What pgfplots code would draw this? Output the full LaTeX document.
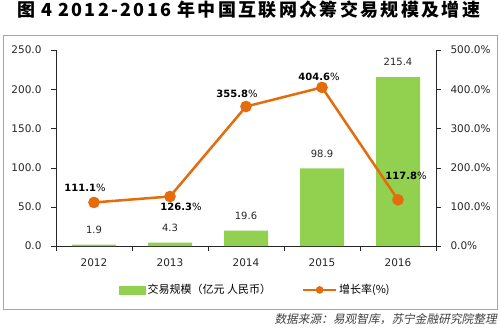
\documentclass[border=0pt]{standalone}
\usepackage{pgfplots}
\pgfplotsset{compat=1.18}
\usepackage{pgfplotstable}
\usepackage{fontspec}
\setmainfont{DejaVu Sans}
\newfontfamily\cjk{Noto Sans CJK SC}
\newfontfamily\cjkt{Noto Sans CJK SC}[LetterSpace=13]
\newfontfamily\cjkit{Noto Sans CJK SC}[FakeSlant=0.2]
\definecolor{barg}{RGB}{146,208,80}
\definecolor{lineo}{RGB}{228,108,10}
\definecolor{boxg}{RGB}{165,165,165}

\pgfplotstableread{
x v
0 1.9
1 4.3
2 19.6
3 98.9
4 215.4
}\bars
\pgfplotstableread{
x g dx dy
0 111.1 -9 15
1 126.3 11 -10
2 355.8 -9 13
3 404.6 -3 11
4 117.8 8 24
}\growth

\begin{document}
\begin{tikzpicture}[x=1pt,y=1pt]
\path[use as bounding box] (0,0) rectangle (500,333);
\draw[boxg, line width=1pt] (3,24) rectangle (497,298);
\node[anchor=west, inner sep=0pt, font=\cjkt\bfseries\fontsize{18}{18}\selectfont] at (17,323.5) {图\hspace{6pt}4\hspace{6pt}2012-2016\hspace{6pt}年中国互联网众筹交易规模及增速};
\node[anchor=east, inner sep=0pt, text=black!75, font=\cjkit\fontsize{11.7}{12}\selectfont] at (497,14) {数据来源：易观智库，苏宁金融研究院整理};

\begin{axis}[
  at={(56pt,87pt)}, anchor=south west, scale only axis,
  width=380pt, height=196pt,
  xmin=-0.5, xmax=4.5, ymin=0, ymax=250,
  axis x line*=bottom, axis y line*=left,
  axis line style={-, black!85},
  tick align=outside,
  xtick={0,...,4}, xticklabels={2012,2013,2014,2015,2016},
  minor xtick={-0.5,0.5,...,4.5},
  major x tick style={draw=none},
  minor tick length=5pt, major tick length=5pt,
  ytick={0,50,...,250},
  yticklabel style={xshift=-6pt, /pgf/number format/.cd, fixed, fixed zerofill, precision=1},
  xticklabel style={yshift=-4pt},
  /pgf/number format/assume math mode=true,
  tick label style={font=\fontsize{10.5}{12}\selectfont, text=black!85},
  tick style={black!85},
  ybar, bar width=44pt,
  nodes near coords,
  nodes near coords style={anchor=center, yshift=15pt, font=\fontsize{10}{11}\selectfont, text=black!85, /pgf/number format/.cd, fixed, fixed zerofill, precision=1},
]
\addplot[fill=barg, draw=none, bar shift=0pt] table[x=x, y=v] {\bars};
\end{axis}

\begin{axis}[
  at={(56pt,87pt)}, anchor=south west, scale only axis,
  width=380pt, height=196pt,
  xmin=-0.5, xmax=4.5, ymin=0, ymax=500,
  axis x line=none, axis y line*=right,
  axis line style={-, black!85},
  tick align=outside, major tick length=5pt,
  ytick={0,100,...,500},
  yticklabel={\pgfmathprintnumber[fixed,fixed zerofill,precision=1]{\tick}\%},
  yticklabel style={xshift=6pt},
  /pgf/number format/assume math mode=true,
  tick label style={font=\fontsize{10.5}{12}\selectfont, text=black!85},
  tick style={black!85},
  legend style={at={(0.525,-0.224)}, anchor=center, draw=none, fill=none,
    font=\cjk\fontsize{11}{12}\selectfont, legend columns=2,
    /tikz/every even column/.append style={column sep=29pt}},
]
\addlegendimage{legend image code/.code={\fill[barg] (0pt,-4pt) rectangle (26pt,4pt);}}
\addlegendentry{交易规模（亿元 人民币）}
\addplot[lineo, line width=2.5pt, mark=*, mark size=4.5pt, mark options={fill=lineo, draw=lineo},
  legend image code/.code={\draw[lineo, line width=2pt] (0pt,0pt) -- (33pt,0pt); \fill[lineo] (16.5pt,0pt) circle (2.5pt);},
  nodes near coords={\textbf{\pgfmathprintnumber[fixed,fixed zerofill,precision=1]{\pgfplotspointmeta}}\%},
  visualization depends on={\thisrow{dx}\as\dx},
  visualization depends on={\thisrow{dy}\as\dy},
  every node near coord/.append style={anchor=center, xshift=\dx pt, yshift=\dy pt, font=\fontsize{10}{11}\selectfont, text=black},
] table[x=x, y=g] {\growth};
\addlegendentry{增长率(\%)}
\end{axis}
\end{tikzpicture}
\end{document}
